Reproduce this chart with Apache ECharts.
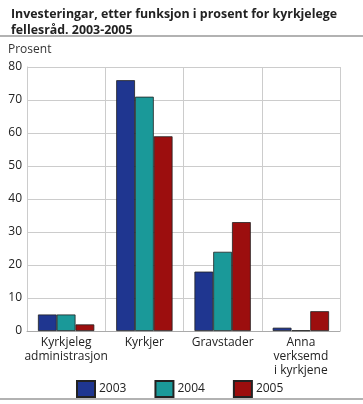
<!DOCTYPE html>
<html><head><meta charset="utf-8">
<script src="https://cdn.jsdelivr.net/npm/echarts@6/dist/echarts.min.js"></script>
<style>html,body{margin:0;padding:0;background:#fff}#c{width:363px;height:404px}</style>
</head><body><div id="c"></div>
<script>
const categories = ['Kyrkjeleg\nadministrasjon', 'Kyrkjer', 'Gravstader', 'Anna\nverksemd\ni kyrkjene'];
const s2003 = [5, 76, 18, 1];
const s2004 = [5, 71, 24, 0.2];
const s2005 = [2, 59, 33, 6];
const yTicks = [0, 10, 20, 30, 40, 50, 60, 70, 80];
const font = '"Open Sans", "Noto Sans", sans-serif';
const chart = echarts.init(document.getElementById('c'));
const mk = (name, data, color) => ({
  name, type: 'bar', data, barGap: '0%', barCategoryGap: '28%',
  itemStyle: { color, borderColor: '#222', borderWidth: 0.8 }
});
chart.setOption({
  animation: false,
  textStyle: { fontFamily: font },
  title: {
    text: 'Investeringar, etter funksjon i prosent for kyrkjelege\nfellesråd. 2003-2005',
    left: 6, top: 1,
    textStyle: { fontSize: 12.4, fontWeight: 'bold', color: '#222', lineHeight: 16, fontFamily: font }
  },
  graphic: [
    { type: 'line', shape: { x1: 0, y1: 36, x2: 363, y2: 36 }, style: { stroke: '#999', lineWidth: 1.5 } },
    { type: 'line', shape: { x1: 0, y1: 399, x2: 363, y2: 399 }, style: { stroke: '#999', lineWidth: 1.5 } },
    { type: 'text', left: 8, top: 44, style: { text: 'Prosent', fontSize: 12, fill: '#333', fontFamily: font } }
  ],
  legend: {
    top: 380, left: 76, itemWidth: 18, itemHeight: 16, itemGap: 28, icon: 'rect',
    textStyle: { fontSize: 12, color: '#222', padding: [0, 0, 0, -1] },
    padding: 0,
    data: ['2003', '2004', '2005']
  },
  grid: { left: 27, right: 23, top: 67, bottom: 73 },
  xAxis: {
    type: 'category', data: categories,
    axisTick: { show: false },
    axisLine: { lineStyle: { color: '#aaa' } },
    axisLabel: { fontSize: 12, color: '#222', lineHeight: 14, interval: 0, margin: 5 },
    splitLine: { show: true, interval: 0, lineStyle: { color: '#ccc', width: 1 } }
  },
  yAxis: {
    type: 'value', min: 0, max: 80, interval: 10,
    axisLabel: { fontSize: 12, color: '#222', margin: 5, formatter: v => yTicks.includes(v) ? String(v) : '' },
    axisLine: { show: true, lineStyle: { color: '#ccc' } },
    splitLine: { lineStyle: { color: '#ccc' } }
  },
  series: [
    mk('2003', s2003, '#1f3690'),
    mk('2004', s2004, '#1a9999'),
    mk('2005', s2005, '#9c0e0e')
  ]
});
</script></body></html>
